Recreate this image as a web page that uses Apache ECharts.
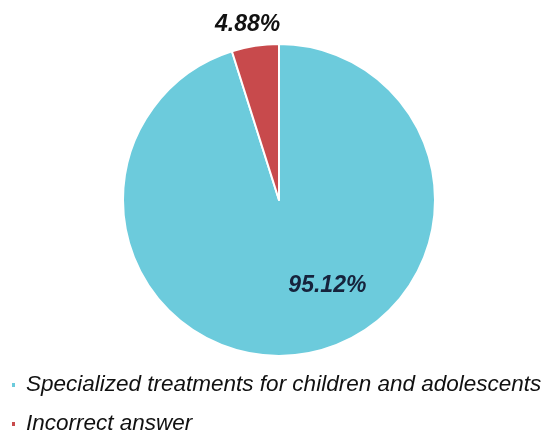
<!DOCTYPE html>
<html><head><meta charset="utf-8">
<script src="https://cdn.jsdelivr.net/npm/echarts@6/dist/echarts.min.js"></script>
<style>html,body{margin:0;padding:0;background:#fff}#c{width:546px;height:432px}</style>
</head><body><div id="c"></div>
<script>
const categories = ["Specialized treatments for children and adolescents", "Incorrect answer"];
const values = [95.12, 4.88];
const colors = ["#6CCBDC", "#C84A4C"];

const chart = echarts.init(document.getElementById('c'), null, {renderer: 'canvas'});
const labelStyles = [
  {position: 'inside', offset: [36, 6], color: '#16233c'},
  {position: 'inside', offset: [-19, -95], color: '#111'}
];
chart.setOption({
  backgroundColor: '#fff',
  animation: false,
  color: colors,
  legend: {
    orient: 'vertical',
    left: 10,
    top: 373,
    height: 80,
    padding: 0,
    icon: 'rect',
    itemWidth: 5,
    itemHeight: 6,
    itemGap: 15,
    textStyle: {fontFamily: 'Liberation Sans, Arial, sans-serif', fontStyle: 'italic', fontSize: 22.5, color: '#111', lineHeight: 24, padding: [0, 0, 0, 5]},
    data: categories
  },
  series: [{
    type: 'pie',
    center: [279, 200],
    radius: [0, 156],
    startAngle: 90,
    clockwise: true,
    itemStyle: {borderColor: '#fff', borderWidth: 2},
    labelLine: {show: false},
    label: {
      fontFamily: 'Liberation Sans, Arial, sans-serif',
      fontStyle: 'italic', fontWeight: 'bold', fontSize: 23,
      formatter: p => p.value.toFixed(2) + '%'
    },
    data: categories.map((n, i) => ({name: n, value: values[i], label: labelStyles[i]}))
  }]
});
</script></body></html>
